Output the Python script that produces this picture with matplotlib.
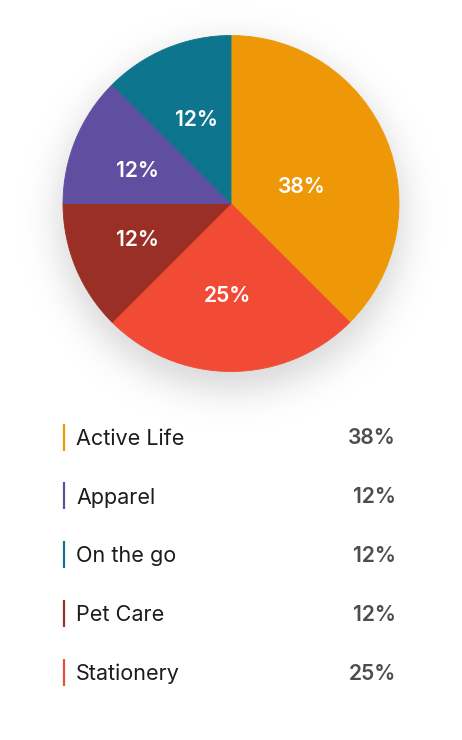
import numpy as np
import matplotlib
matplotlib.use("Agg")
import matplotlib.pyplot as plt

# ---- data ----
categories = ["Active Life", "Apparel", "On the go", "Pet Care", "Stationery"]
values = [37.5, 12.5, 12.5, 12.5, 25.0]
pct_labels = ["38%", "12%", "12%", "12%", "25%"]
colors = ["#EE9808", "#604FA1", "#0D758D", "#9A2F25", "#F14B35"]
pie_order = ["Active Life", "Stationery", "Pet Care", "Apparel", "On the go"]

# ---- style ----
FONT = ["Inter", "DejaVu Sans"]
plt.rcParams["font.family"] = FONT
W, H = 462, 740
PX = 0.72  # points per pixel at dpi 100
cx, cy, R = 231, 203.5, 168

fig = plt.figure(figsize=(W / 100, H / 100), dpi=100)
fig.patch.set_facecolor("white")

bg = fig.add_axes([0, 0, 1, 1])
# soft drop shadow behind pie
yy, xx = np.mgrid[0:H, 0:W] + 0.5
d = np.hypot(xx - cx, yy - (cy + 14))
alpha = 0.16 / (1 + np.exp((d - 172) / 11))
img = np.zeros((H, W, 4))
img[..., 3] = alpha
bg.imshow(img, extent=(0, W, H, 0), interpolation="bilinear", aspect="auto", zorder=0)
bg.set_xlim(0, W)
bg.set_ylim(H, 0)
bg.axis("off")

# ---- pie ----
ax = fig.add_axes([(cx - R) / W, (H - cy - R) / H, 2 * R / W, 2 * R / H])
idx = [categories.index(c) for c in pie_order]
pv = [values[i] for i in idx]
pc = [colors[i] for i in idx]
pl = [pct_labels[i] for i in idx]
wedges, _ = ax.pie(pv, colors=pc, startangle=90, counterclock=False, radius=1,
                   wedgeprops={"linewidth": 0.6})
for w in wedges:
    w.set_edgecolor(w.get_facecolor())
# per-slice label placement (radius fraction, angle nudge in degrees)
label_r = [0.43, 0.55, 0.6, 0.59, 0.54]
label_dang = [-9.5, -2.0, -1.0, 3.3, 0.0]
for w, lab, r, da in zip(wedges, pl, label_r, label_dang):
    ang = np.deg2rad((w.theta1 + w.theta2) / 2 + da)
    ax.text(r * np.cos(ang), r * np.sin(ang), lab, ha="center", va="center",
            color="white", fontsize=21 * PX, fontweight="semibold", family=FONT)
ax.set_xlim(-1, 1)
ax.set_ylim(-1, 1)
ax.axis("off")

# ---- legend ----
row0, step = 437, 58.75
for i, (cat, col, lab) in enumerate(zip(categories, colors, pct_labels)):
    yc = row0 + i * step
    bg.plot([64, 64], [yc - 13.5, yc + 13.5], color=col, lw=2.2 * PX,
            solid_capstyle="butt")
    bg.text(76, yc + 8, cat, ha="left", va="baseline", color="#1c1c1c",
            fontsize=21.6 * PX, family=FONT)
    bg.text(396, yc + 7.5, lab, ha="right", va="baseline", color="#4d4d4d",
            fontsize=21 * PX, fontweight="semibold", family=FONT)

fig.savefig("out.png", dpi=100, facecolor="white")
